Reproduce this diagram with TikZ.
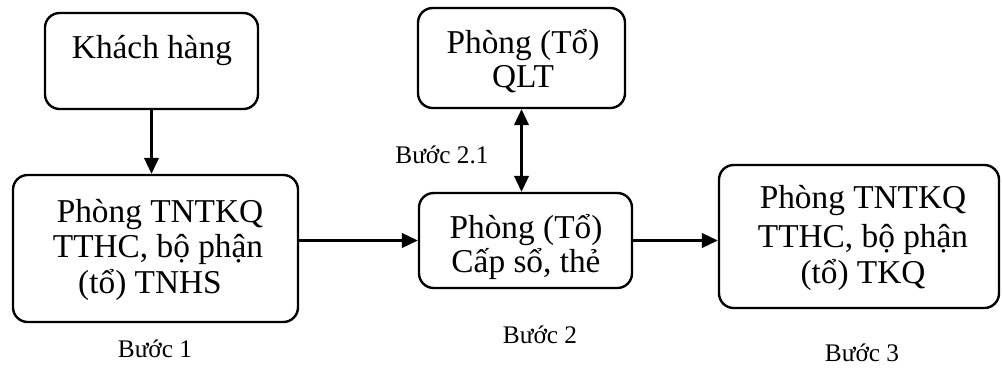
\documentclass[tikz,border=0pt]{standalone}
\usepackage{fontspec}
\setmainfont{Liberation Serif}
\usetikzlibrary{arrows.meta,fit}
\begin{document}
\begin{tikzpicture}[x=0.75pt,y=-0.75pt,
  box/.style={draw,line width=1.8pt,rounded corners=11pt,inner sep=0pt},
  txt/.style={anchor=base,inner sep=0pt,font=\fontsize{25}{29}\selectfont},
  lbl/.style={anchor=base,inner sep=0pt,font=\fontsize{19}{22}\selectfont},
  conn/.style={line width=1.6pt,-{Triangle[length=12pt,width=11pt]}},
  dconn/.style={line width=1.6pt,{Triangle[length=12pt,width=11pt]}-{Triangle[length=12pt,width=11pt]}}]
\useasboundingbox (0,0) rectangle (1002,372);
% boxes
\node[box,fit={(45,13) (258,109)}] (kh) {};
\node[box,fit={(13,175) (298,322)}] (tnhs) {};
\node[box,fit={(418,8) (625,108)}] (qlt) {};
\node[box,fit={(419,193) (632,288)}] (cap) {};
\node[box,fit={(719,165) (999,308)}] (tkq) {};
% texts
\node[txt] (t1) at (152,58) {Khách hàng};
\node[txt] (t2a) at (160,222) {Phòng TNTKQ};
\node[txt] (t2b) at (158,257) {TTHC, bộ phận};
\node[txt] (t2c) at (150,293) {(tổ) TNHS};
\node[txt] (t3a) at (523,53) {Phòng (Tổ)};
\node[txt] (t3b) at (523,87) {QLT};
\node[txt] (t4a) at (526,238) {Phòng (Tổ)};
\node[txt] (t4b) at (526,272) {Cấp sổ, thẻ};
\node[txt] (t5a) at (863,208) {Phòng TNTKQ};
\node[txt] (t5b) at (863,247) {TTHC, bộ phận};
\node[txt] (t5c) at (863,283) {(tổ) TKQ};
% labels
\node[lbl] (b1) at (155,357) {Bước 1};
\node[lbl] (b21) at (442,163) {Bước 2.1};
\node[lbl] (b2) at (540,343) {Bước 2};
\node[lbl] (b3) at (862,361) {Bước 3};
% connectors
\draw[conn] (kh.south) -- (kh.south |- tnhs.north);
\draw[dconn] (qlt.south) -- (qlt.south |- cap.north);
\draw[conn] (cap.west -| tnhs.east) -- (cap.west);
\draw[conn] (cap.east) -- (cap.east -| tkq.west);
\end{tikzpicture}
\end{document}
